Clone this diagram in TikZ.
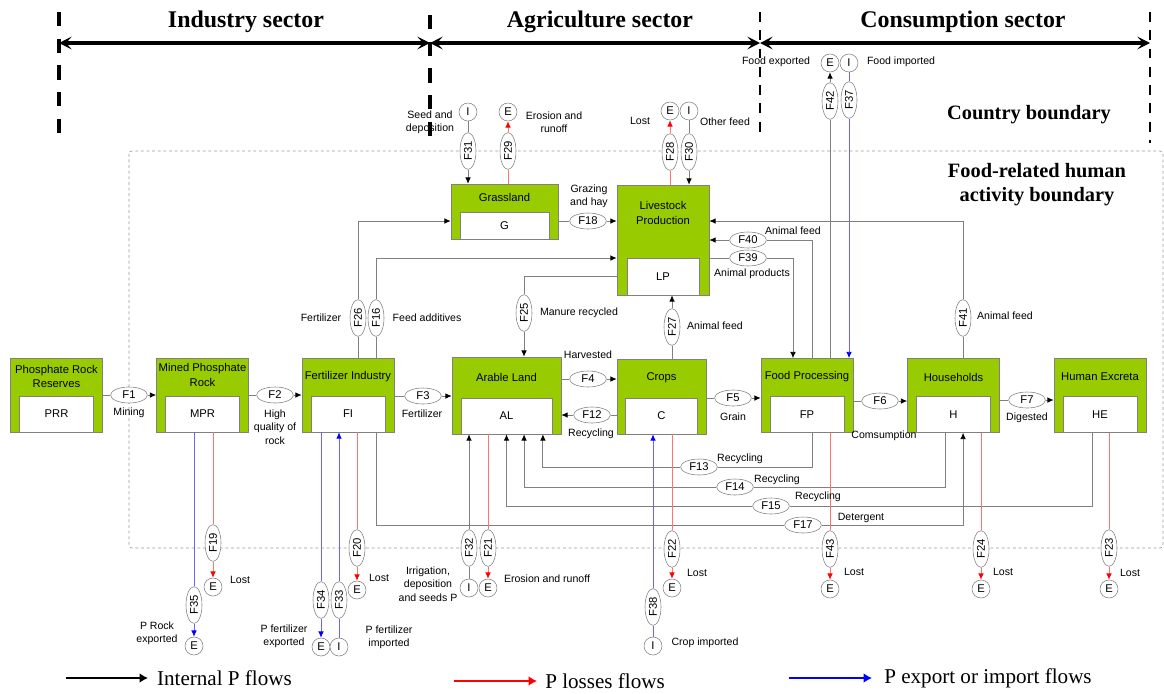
\documentclass[tikz,border=0pt]{standalone}
\usepackage{fontspec}
\setmainfont{Liberation Serif}
\setsansfont{Liberation Sans}
\usepackage{tikz}
\usetikzlibrary{arrows.meta,shapes.geometric,positioning}
\definecolor{boxgreen}{RGB}{153,204,0}
\tikzset{
    pbox/.style={
           rectangle,
           draw=gray, fill=boxgreen,
           minimum width=2.3cm,
           minimum height=1.85cm,
           inner sep=0pt,
           },
    pinner/.style={
           rectangle,
           draw=gray, fill=white,
           minimum width=1.85cm,
           minimum height=0.9cm,
           inner sep=0pt,
           font=\sffamily\fontsize{8}{10}\selectfont,
           },
    ptitle/.style={align=center, inner sep=0pt, font=\sffamily\fontsize{8}{10}\selectfont},
    fnode/.style={
           ellipse,
           draw=gray, fill=white,
           minimum width=0.92cm,
           minimum height=0.4cm,
           inner sep=0pt,
           font=\sffamily\fontsize{8}{10}\selectfont,
           },
    vfnode/.style={fnode, rotate=90},
    ext/.style={circle, draw=gray, fill=white, minimum size=0.45cm, inner sep=0pt,
           font=\sffamily\fontsize{8}{10}\selectfont},
    lbl/.style={align=center, inner sep=0pt, font=\sffamily\fontsize{7.5}{9.5}\selectfont},
    header/.style={inner sep=0pt, font=\bfseries\fontsize{17}{20}\selectfont},
    bheader/.style={inner sep=0pt, align=center, font=\bfseries\fontsize{14.5}{17}\selectfont},
    legtext/.style={inner sep=0pt, font=\fontsize{15}{18}\selectfont},
    pflow/.style={draw=gray, line width=0.6pt, -{Latex[length=4.5pt,width=4pt,color=black]}},
    lflow/.style={draw=red!55, line width=0.6pt, -{Latex[length=4.5pt,width=4pt,color=red]}},
    xflow/.style={draw=blue!60, line width=0.6pt, -{Latex[length=4.5pt,width=4pt,color=blue]}},
    sectorthick/.style={line width=2.2pt, dash pattern=on 10pt off 9pt},
    sectorthin/.style={line width=1.3pt, dash pattern=on 7pt off 6pt},
    sectorarrow/.style={line width=2.3pt, {Stealth[length=9pt,width=9pt,inset=4pt]}-{Stealth[length=9pt,width=9pt,inset=4pt]}},
    legarrow/.style={line width=1.8pt, -{Latex[length=6pt,width=7pt]}},
}

\begin{document}
\begin{tikzpicture}[x=0.025cm, y=-0.025cm]
 \useasboundingbox (0,0) rectangle (1164,693);

 % sector limits and the country/food boundaries
 \draw[sectorthick] (59,12) -- (59,136);
 \draw[sectorthick] (430,15) -- (430,140);
 \draw[sectorthin] (760,12) -- (760,137);
 \draw[sectorthin] (1150,12) -- (1150,143);
 \draw[gray!80, line width=0.5pt, dash pattern=on 2pt off 2pt, rounded corners=2pt]
  (129,151) rectangle (1163,548);

 \coordinate (s1) at (59,43);
 \coordinate (s2) at (430,43);
 \coordinate (s3) at (760,43);
 \coordinate (s4) at (1150,43);
 \draw[sectorarrow] (s1) -- (s2);
 \draw[sectorarrow] (s2) -- (s3);
 \draw[sectorarrow] (s3) -- (s4);

 \node[header] (IND) at (246,22) {Industry sector};
 \node[header] (AGR) at (600,22) {Agriculture sector};
 \node[header] (CON) at (963,22) {Consumption sector};
 \node[bheader] (CB) at (1029,115) {Country boundary};
 \node[bheader] (FB) at (1037,185) {Food-related human\\activity boundary};

 % Processes: green box, white box with the code, title on top
 \node[pbox] (PRR) at (56.5,395) {};
 \node[pinner, anchor=south] (PRRin) at (PRR.south) {PRR};
 \node[ptitle] (PRRt) at (56.5,376) {Phosphate Rock\\Reserves};

 \node[pbox] (MPR) at (202.5,395) {};
 \node[pinner, anchor=south] (MPRin) at (MPR.south) {MPR};
 \node[ptitle] (MPRt) at (202.5,375) {Mined Phosphate\\Rock};

 \node[pbox] (FI) at (348,395) {};
 \node[pinner, anchor=south] (FIin) at (FI.south) {FI};
 \node[ptitle] (FIt) at (348,377) {Fertilizer Industry};

 % Arable land is a bit wider
 \node[pbox, minimum width=2.725cm, minimum height=1.925cm] (AL) at (506.5,395.5) {};
 \node[pinner, anchor=south, minimum width=2.275cm] (ALin) at (AL.south) {AL};
 \node[ptitle] (ALt) at (506.5,377) {Arable Land};

 \node[pbox, minimum width=2.225cm, minimum height=1.875cm] (C) at (661.5,396.5) {};
 \node[pinner, anchor=south, minimum width=1.8cm] (Cin) at (C.south) {C};
 \node[ptitle] (Ct) at (661.5,378) {Crops};

 \node[pbox] (FP) at (807,395.5) {};
 \node[pinner, anchor=south] (FPin) at (FP.south) {FP};
 \node[ptitle] (FPt) at (807,377) {Food Processing};

 \node[pbox] (H) at (953.5,395.5) {};
 \node[pinner, anchor=south] (Hin) at (H.south) {H};
 \node[ptitle] (Ht) at (953.5,377) {Households};

 \node[pbox] (HE) at (1100,395.5) {};
 \node[pinner, anchor=south] (HEin) at (HE.south) {HE};
 \node[ptitle] (HEt) at (1100,377) {Human Excreta};

 % Grassland and livestock in the upper row
 \node[pbox, minimum width=2.675cm, minimum height=1.375cm] (G) at (504.5,211.5) {};
 \node[pinner, anchor=south, minimum width=2.225cm, minimum height=0.675cm] (Gin) at (G.south) {G};
 \node[ptitle] (Gt) at (504.5,197) {Grassland};

 \node[pbox, minimum height=2.75cm] (LP) at (663,240) {};
 \node[pinner, anchor=south, minimum width=1.8cm, minimum height=0.925cm] (LPin) at (LP.south) {LP};
 \node[ptitle] (LPt) at (663,213) {Livestock\\Production};

 % flow ellipses, horizontal
 \node[fnode] (F1) at (129,395) {F1};
 \node[fnode] (F2) at (275,395) {F2};
 \node[fnode] (F3) at (423,396) {F3};
 \node[fnode] (F4) at (588,379) {F4};
 \node[fnode] (F12) at (592,415) {F12};
 \node[fnode] (F5) at (733,398) {F5};
 \node[fnode] (F6) at (880,401) {F6};
 \node[fnode] (F7) at (1027,400) {F7};
 \node[fnode] (F18) at (588,221) {F18};
 \node[fnode] (F39) at (748,258) {F39};
 \node[fnode] (F40) at (748,240) {F40};
 \node[fnode] (F13) at (699,467) {F13};
 \node[fnode] (F14) at (735,487) {F14};
 \node[fnode] (F15) at (771,506) {F15};
 \node[fnode] (F17) at (803,525) {F17};

 % flow ellipses, vertical
 \node[vfnode] (F26) at (358,318) {F26};
 \node[vfnode] (F16) at (376,318) {F16};
 \node[vfnode] (F25) at (524,313) {F25};
 \node[vfnode] (F27) at (672,327) {F27};
 \node[vfnode] (F41) at (963,318) {F41};
 \node[vfnode] (F42) at (830,101) {F42};
 \node[vfnode] (F37) at (849,100) {F37};
 \node[vfnode] (F31) at (468,151) {F31};
 \node[vfnode] (F29) at (508,151) {F29};
 \node[vfnode] (F28) at (670,152) {F28};
 \node[vfnode] (F30) at (689,152) {F30};
 \node[vfnode] (F19) at (213,543) {F19};
 \node[vfnode] (F35) at (194,605) {F35};
 \node[vfnode] (F34) at (321,600) {F34};
 \node[vfnode] (F33) at (339,600) {F33};
 \node[vfnode] (F20) at (357,548) {F20};
 \node[vfnode] (F32) at (469,548) {F32};
 \node[vfnode] (F21) at (488,548) {F21};
 \node[vfnode] (F22) at (672,549) {F22};
 \node[vfnode] (F38) at (653,607) {F38};
 \node[vfnode] (F43) at (830,549) {F43};
 \node[vfnode] (F24) at (981,549) {F24};
 \node[vfnode] (F23) at (1109,548) {F23};

 % export (E) and import (I) ends
 \node[ext] (Gimp) at (468,112) {I};
 \node[ext] (Gexp) at (508,112) {E};
 \node[ext] (LPexp) at (670,111) {E};
 \node[ext] (LPimp) at (689,111) {I};
 \node[ext] (FPexp) at (830,63) {E};
 \node[ext] (FPimp) at (849,63) {I};
 \node[ext] (MPRexp) at (213,587) {E};
 \node[ext] (MPRout) at (194,646) {E};
 \node[ext] (FIout) at (321,647) {E};
 \node[ext] (FIimp) at (339,647) {I};
 \node[ext] (FIexp) at (357,590) {E};
 \node[ext] (ALimp) at (469,588) {I};
 \node[ext] (ALexp) at (488,588) {E};
 \node[ext] (Cexp) at (672,588) {E};
 \node[ext] (Cimp) at (653,646) {I};
 \node[ext] (FPlost) at (830,589) {E};
 \node[ext] (Hexp) at (981,589) {E};
 \node[ext] (HEexp) at (1109,589) {E};

 % main chain
 \draw[pflow] (PRR.east |- F1) -- (F1) -- (MPR.west |- F1);
 \draw[pflow] (MPR.east |- F2) -- (F2) -- (FI.west |- F2);
 \draw[pflow] (FI.east |- F3) -- (F3) -- (AL.west |- F3);
 \draw[pflow] (AL.east |- F4) -- (F4) -- (C.west |- F4);
 \draw[pflow] (C.west |- F12) -- (F12) -- (AL.east |- F12);
 \draw[pflow] (C.east |- F5) -- (F5) -- (FP.west |- F5);
 \draw[pflow] (FP.east |- F6) -- (F6) -- (H.west |- F6);
 \draw[pflow] (H.east |- F7) -- (F7) -- (HE.west |- F7);
 \draw[pflow] (G.east |- F18) -- (F18) -- (LP.west |- F18);

 % flows around grassland and livestock
 \draw[pflow] (FI.north -| F26) -- (F26) |- (G.west |- F18);
 \draw[pflow] (FI.north -| F16) -- (F16) |- (LP.west |- F39);
 \draw[pflow] (LP.west |- LPin) -| (F25) -- (AL.north -| F25);
 \draw[pflow] (C.north -| F27) -- (F27) -- (LP.south -| F27);
 \draw[pflow] (LP.east |- F39) -- (F39) -| ([xshift=-0.35cm]FP.north);
 \draw[pflow] ([xshift=0.125cm]FP.north) |- (F40) -- (LP.east |- F40);
 \draw[pflow] (H.north -| F41) -- (F41) |- (LP.east |- F18);
 \draw[pflow] (FP.north -| F42) -- (F42) -- (FPexp);
 \draw[xflow] (FPimp) -- (F37) -- (FP.north -| F37);

 % recycling and detergent back to arable land / households
 \draw[pflow] ([xshift=0.125cm]FP.south) |- (F13) -| ([xshift=0.91cm]AL.south);
 \draw[pflow] ([xshift=-0.21cm]H.south) |- (F14) -| ([xshift=0.44cm]AL.south);
 \draw[pflow] ([xshift=-0.2cm]HE.south) |- (F15) -| (AL.south);
 \draw[pflow] ([xshift=0.7cm]FI.south) |- (F17) -| ([xshift=0.24cm]H.south);

 % exchanges across the boundary
 \draw[pflow] (Gimp) -- (F31) -- (G.north -| F31);
 \draw[lflow] (G.north -| F29) -- (F29) -- (Gexp);
 \draw[lflow] (LP.north -| F28) -- (F28) -- (LPexp);
 \draw[pflow] (LPimp) -- (F30) -- (LP.north -| F30);
 \draw[lflow] (MPR.south -| F19) -- (F19) -- (MPRexp);
 \draw[xflow] (MPR.south -| F35) -- (F35) -- (MPRout);
 \draw[xflow] (FI.south -| F34) -- (F34) -- (FIout);
 \draw[xflow] (FIimp) -- (F33) -- (FI.south -| F33);
 \draw[lflow] (FI.south -| F20) -- (F20) -- (FIexp);
 \draw[pflow] (ALimp) -- (F32) -- (AL.south -| F32);
 \draw[lflow] (AL.south -| F21) -- (F21) -- (ALexp);
 \draw[lflow] (C.south -| F22) -- (F22) -- (Cexp);
 \draw[xflow] (Cimp) -- (F38) -- (C.south -| F38);
 \draw[lflow] (FP.south -| F43) -- (F43) -- (FPlost);
 \draw[lflow] (H.south -| F24) -- (F24) -- (Hexp);
 \draw[lflow] (HE.south -| F23) -- (F23) -- (HEexp);

 % texts on the flows
 \node[lbl] (mining) at (129,413) {Mining};
 \node[lbl] (hqrock) at (275,427) {High\\quality of\\rock};
 \node[lbl] (fert1) at (422,414) {Fertilizer};
 \node[lbl] (harv) at (588,355) {Harvested};
 \node[lbl] (recy1) at (591,434) {Recycling};
 \node[lbl] (grain) at (733,417) {Grain};
 \node[lbl] (consum) at (884,436) {Comsumption};
 \node[lbl] (digest) at (1027,418) {Digested};
 \node[lbl] (graz) at (589,196) {Grazing\\and hay};
 \node[lbl] (fert2) at (321,318) {Fertilizer};
 \node[lbl] (addit) at (427,318) {Feed additives};
 \node[lbl] (manure) at (579,313) {Manure recycled};
 \node[lbl] (afeed1) at (715,326) {Animal feed};
 \node[lbl] (aprod) at (752,274) {Animal products};
 \node[lbl] (afeed2) at (793,231) {Animal feed};
 \node[lbl] (afeed3) at (1005,316) {Animal feed};
 \node[lbl] (fexp) at (776,62) {Food exported};
 \node[lbl] (fimp) at (901,62) {Food imported};
 \node[lbl] (seed) at (430,122) {Seed and\\deposition};
 \node[lbl] (eros1) at (554,122) {Erosion and\\runoff};
 \node[lbl] (lost1) at (640,121) {Lost};
 \node[lbl] (ofeed) at (725,122) {Other feed};
 \node[lbl] (recy2) at (740,459) {Recycling};
 \node[lbl] (recy3) at (777,480) {Recycling};
 \node[lbl] (recy4) at (818,497) {Recycling};
 \node[lbl] (deter) at (861,518) {Detergent};
 \node[lbl] (lost2) at (240,580) {Lost};
 \node[lbl] (lost3) at (379,578) {Lost};
 \node[lbl] (rexp) at (157,633) {P Rock\\exported};
 \node[lbl] (pfexp) at (284,636) {P fertilizer\\exported};
 \node[lbl] (pfimp) at (389,637) {P fertilizer\\imported};
 \node[lbl] (irrig) at (428,584) {Irrigation,\\deposition\\and seeds P};
 \node[lbl] (eros2) at (547,579) {Erosion and runoff};
 \node[lbl] (lost4) at (697,573) {Lost};
 \node[lbl] (cimpt) at (705,643) {Crop imported};
 \node[lbl] (lost5) at (854,572) {Lost};
 \node[lbl] (lost6) at (1003,572) {Lost};
 \node[lbl] (lost7) at (1130,573) {Lost};

 % legend
 \coordinate (lg1a) at (66,678);
 \coordinate (lg1b) at (148,678);
 \coordinate (lg2a) at (454,681);
 \coordinate (lg2b) at (537,681);
 \coordinate (lg3a) at (789,678);
 \coordinate (lg3b) at (872,678);
 \draw[legarrow, black] (lg1a) -- (lg1b);
 \draw[legarrow, red] (lg2a) -- (lg2b);
 \draw[legarrow, blue] (lg3a) -- (lg3b);
 \node[legtext, right=0.22cm of lg1b] (leg1) {Internal P flows};
 \node[legtext, right=0.2cm of lg2b] (leg2) {P losses flows};
 \node[legtext, right=0.3cm of lg3b] (leg3) {P export or import flows};
\end{tikzpicture}
\end{document}
